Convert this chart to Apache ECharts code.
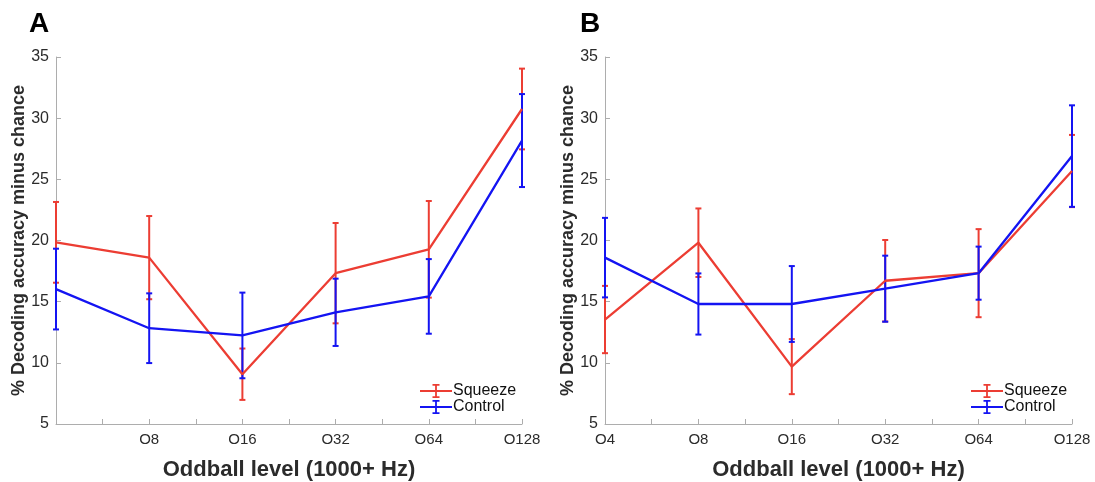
<!DOCTYPE html>
<html>
<head>
<meta charset="utf-8">
<script src="https://cdn.jsdelivr.net/npm/echarts@6/dist/echarts.min.js"></script>
<style>
  html, body { margin: 0; padding: 0; background: #fff; }
  #chart { width: 1095px; height: 482px; }
</style>
</head>
<body>
<div id="chart"></div>
<script>
// oddball levels (x positions 1..6)
var levels = ["O4", "O8", "O16", "O32", "O64", "O128"];
var yTicks = [5, 10, 15, 20, 25, 30, 35];

// panel A
var squeezeA = [19.85, 18.6, 9.07, 17.33, 19.28, 30.75];
var squeezeErrA = [3.3, 3.4, 2.1, 4.1, 3.95, 3.3];
var controlA = [16.03, 12.83, 12.24, 14.13, 15.43, 28.17];
var controlErrA = [3.3, 2.85, 3.5, 2.75, 3.05, 3.8];

// panel B
var squeezeB = [13.54, 19.82, 9.69, 16.71, 17.33, 25.68];
var squeezeErrB = [2.75, 2.8, 2.25, 3.33, 3.6, 2.95];
var controlB = [18.6, 14.81, 14.81, 16.06, 17.33, 26.9];
var controlErrB = [3.25, 2.5, 3.1, 2.7, 2.17, 4.15];

var RED = "#ec3d33";
var BLUE = "#1414f2";
var FONT = "Liberation Sans, Arial, Helvetica, sans-serif";
var AXIS_COLOR = "#adadad";
var TEXT_COLOR = "#2b2b2b";

// legend icon: line with an error bar through it
var errIcon = "path://M0,6.1L32,6.1L32,7.9L0,7.9Z M15.1,0L16.9,0L16.9,14L15.1,14Z M12.5,0L19.5,0L19.5,1.7L12.5,1.7Z M12.5,12.3L19.5,12.3L19.5,14L12.5,14Z";

function linePoints(vals) {
  return vals.map(function (v, i) { return [i + 1, v]; });
}
function errPoints(vals, errs) {
  return vals.map(function (v, i) { return [i + 1, v - errs[i], v + errs[i]]; });
}

function errorSeries(name, idx, vals, errs, color) {
  return {
    name: name,
    type: "custom",
    xAxisIndex: idx,
    yAxisIndex: idx,
    data: errPoints(vals, errs),
    z: 3,
    renderItem: function (params, api) {
      var x = api.value(0);
      var lo = api.coord([x, api.value(1)]);
      var hi = api.coord([x, api.value(2)]);
      var hw = 3;
      var st = { stroke: color, lineWidth: 2 };
      return {
        type: "group",
        children: [
          { type: "line", shape: { x1: lo[0], y1: lo[1], x2: hi[0], y2: hi[1] }, style: st },
          { type: "line", shape: { x1: lo[0] - hw, y1: lo[1], x2: lo[0] + hw, y2: lo[1] }, style: st },
          { type: "line", shape: { x1: hi[0] - hw, y1: hi[1], x2: hi[0] + hw, y2: hi[1] }, style: st }
        ]
      };
    }
  };
}

function lineSeries(name, idx, vals, color) {
  return {
    name: name,
    type: "line",
    xAxisIndex: idx,
    yAxisIndex: idx,
    data: linePoints(vals),
    symbol: "none",
    z: 3,
    lineStyle: { color: color, width: 2.3 },
    itemStyle: { color: color }
  };
}

function makeXAxis(idx, hideFirst) {
  return {
    type: "value",
    gridIndex: idx,
    min: 1,
    max: 6,
    interval: 0.5,
    name: "Oddball level (1000+ Hz)",
    nameLocation: "middle",
    nameGap: 35,
    nameTextStyle: { fontFamily: FONT, fontWeight: "bold", fontSize: 22, color: TEXT_COLOR },
    axisLine: { lineStyle: { color: AXIS_COLOR, width: 1 } },
    axisTick: { inside: true, length: 5, lineStyle: { color: AXIS_COLOR } },
    splitLine: { show: false },
    axisLabel: {
      margin: 8,
      fontFamily: FONT,
      fontSize: 15,
      color: TEXT_COLOR,
      showMinLabel: true,
      showMaxLabel: true,
      formatter: function (v) {
        if (Math.abs(v - Math.round(v)) > 1e-6) return "";
        var i = Math.round(v) - 1;
        if (hideFirst && i === 0) return "";
        return levels[i];
      }
    }
  };
}

function makeYAxis(idx) {
  return {
    type: "value",
    gridIndex: idx,
    min: yTicks[0],
    max: yTicks[yTicks.length - 1],
    interval: 5,
    name: "% Decoding accuracy minus chance",
    nameLocation: "middle",
    nameGap: 28,
    nameMoveOverlap: false,
    nameTextStyle: { fontFamily: FONT, fontWeight: "bold", fontSize: 18, color: TEXT_COLOR },
    axisLine: { show: true, lineStyle: { color: AXIS_COLOR, width: 1 } },
    axisTick: { show: true, inside: true, length: 5, lineStyle: { color: AXIS_COLOR } },
    splitLine: { show: false },
    axisLabel: { margin: 7, fontFamily: FONT, fontSize: 16, color: TEXT_COLOR }
  };
}

function makeLegend(left) {
  return {
    left: left,
    top: 378,
    orient: "vertical",
    itemGap: 0,
    itemWidth: 32,
    itemHeight: 14,
    icon: errIcon,
    data: ["Squeeze", "Control"],
    textStyle: { fontFamily: FONT, fontSize: 16, color: "#111", padding: [0, 0, 0, -4] }
  };
}

var chart = echarts.init(document.getElementById("chart"), null, { renderer: "canvas" });

var option = {
  backgroundColor: "#fff",
  animation: false,
  grid: [
    { left: 56, top: 57, width: 466, height: 367, outerBoundsMode: "none" },
    { left: 605, top: 57, width: 467, height: 367, outerBoundsMode: "none" }
  ],
  xAxis: [makeXAxis(0, true), makeXAxis(1, false)],
  yAxis: [makeYAxis(0), makeYAxis(1)],
  legend: [makeLegend(415), makeLegend(966)],
  graphic: [
    { type: "text", left: 29, top: 10, style: { text: "A", font: "bold 28px " + FONT, fill: "#000" } },
    { type: "text", left: 580, top: 10, style: { text: "B", font: "bold 28px " + FONT, fill: "#000" } }
  ],
  series: [
    lineSeries("Squeeze", 0, squeezeA, RED),
    errorSeries("Squeeze", 0, squeezeA, squeezeErrA, RED),
    lineSeries("Control", 0, controlA, BLUE),
    errorSeries("Control", 0, controlA, controlErrA, BLUE),
    lineSeries("Squeeze", 1, squeezeB, RED),
    errorSeries("Squeeze", 1, squeezeB, squeezeErrB, RED),
    lineSeries("Control", 1, controlB, BLUE),
    errorSeries("Control", 1, controlB, controlErrB, BLUE)
  ]
};

chart.setOption(option);
window.onresize = function () {
  chart.resize();
};
</script>
</body>
</html>
